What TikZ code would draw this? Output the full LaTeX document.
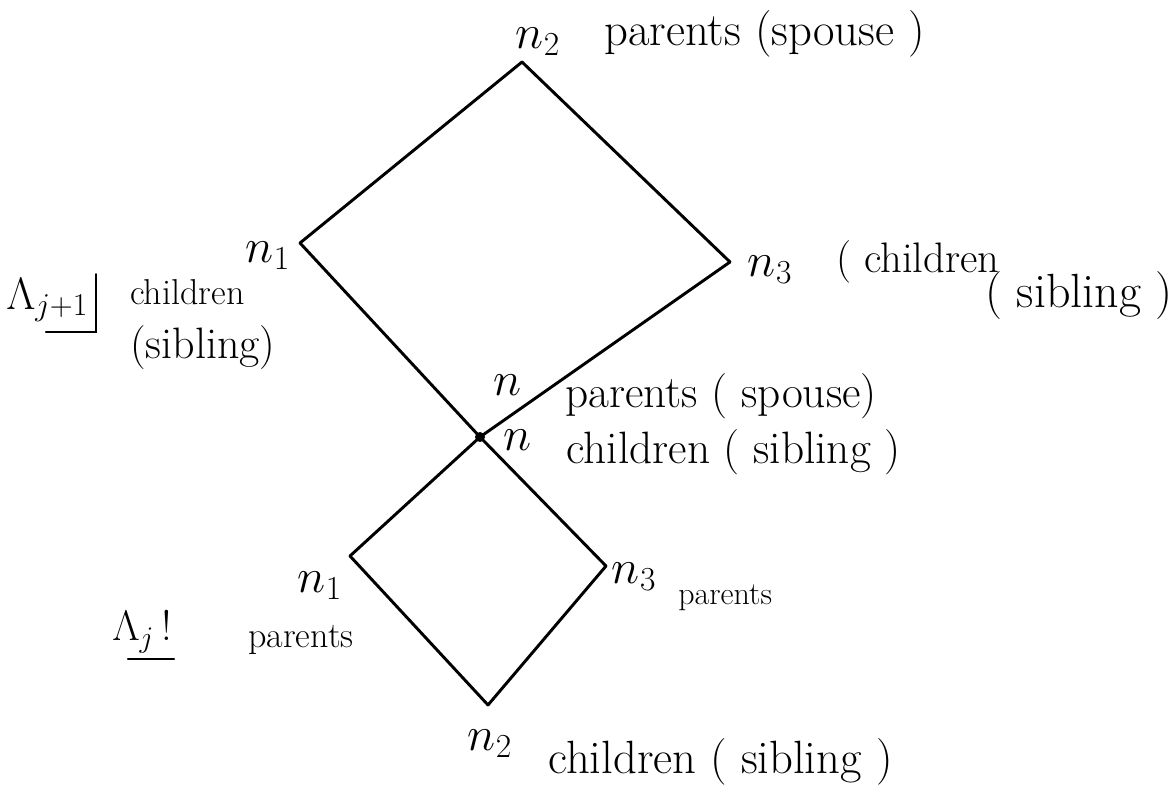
\RequirePackage{fix-cm}
\documentclass[tikz,border=0pt]{standalone}
\usepackage{tikz}
\begin{document}
\begin{tikzpicture}[x=0.75pt,y=-0.75pt,
  edge/.style={line width=2.2pt,black,line cap=round},
  lbl/.style={font=\fontsize{#1}{#1}\selectfont,inner sep=0pt,anchor=west},
  lbl/.default=30,
  vlbl/.style={font=\fontsize{36}{40}\selectfont,inner sep=0pt}]
\useasboundingbox[fill=white] (0,0) rectangle (1176,791);
% vertices
\coordinate (ut) at (522,62);
\coordinate (ul) at (300,243);
\coordinate (ur) at (730,262);
\coordinate (c) at (480,437);
\coordinate (ll) at (350,556);
\coordinate (lr) at (606,566);
\coordinate (lb) at (488,705);
% edges
\draw[edge] (ut) -- (ul);
\draw[edge] (ut) -- (ur);
\draw[edge] (ul) -- (c);
\draw[edge] (ur) -- (c);
\draw[edge] (c) -- (ll);
\draw[edge] (c) -- (lr);
\draw[edge] (ll) -- (lb);
\draw[edge] (lr) -- (lb);
\fill (c) circle (5);
% upper labels
\node[vlbl] (n2t) at (538,42) {$n_2$};
\node[lbl=35] (t1) at (604,34) {parents (spouse )};
\node[vlbl] (n1u) at (268,256) {$n_1$};
\node[lbl=27] (t2) at (130,292) {children};
\node[lbl=33] (t3) at (130,348) {(sibling)};
\node[vlbl] (n3u) at (770,270) {$n_3$};
\node[lbl=32] (t4) at (836,262) {( children};
\node[lbl=36] (t5) at (985,296) {( sibling )};
\node[vlbl] (nu) at (508,385) {$n$};
\node[lbl=34] (t6) at (565,396) {parents ( spouse)};
\node[vlbl] (nl) at (518,440) {$n$};
\node[lbl=34] (t7) at (566,452) {children ( sibling )};
% lower labels
\node[vlbl] (n1l) at (320,586) {$n_1$};
\node[lbl=27] (t8) at (248,640) {parents};
\node[vlbl] (n3l) at (634,577) {$n_3$};
\node[lbl=24] (t9) at (678,598) {parents};
\node[vlbl] (n2l) at (490,744) {$n_2$};
\node[lbl=35] (t10) at (548,762) {children ( sibling )};
% level labels
\node[font=\fontsize{34}{40}\selectfont,inner sep=0pt,anchor=west] (Lj1) at (6,300) {$\Lambda_{j+1}$};
\draw[edge,line width=1.8pt] (Lj1.south west) ++(40,10) coordinate (u1) -- ([xshift=6pt]Lj1.south east |- u1) coordinate (u2) -- ++(0,-58);
\node[font=\fontsize{32}{36}\selectfont,inner sep=0pt,anchor=west] (Lj) at (112,632) {$\Lambda_{j}\,!$};
\draw[edge,line width=1.8pt] (Lj.south west) ++(16,6) -- ++(46,0);
\end{tikzpicture}
\end{document}
